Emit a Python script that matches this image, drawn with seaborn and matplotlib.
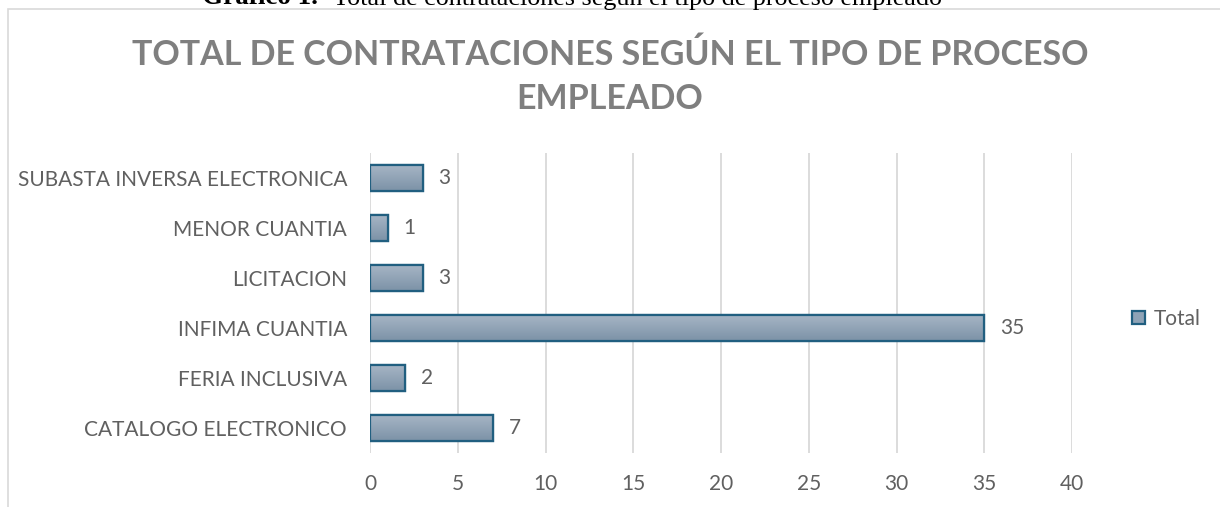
import matplotlib
matplotlib.use("Agg")
import matplotlib.pyplot as plt
import matplotlib.patches as mpatches
from matplotlib.colors import LinearSegmentedColormap
import numpy as np
import seaborn as sns
import pandas as pd

categories = ["SUBASTA INVERSA ELECTRONICA", "MENOR CUANTIA", "LICITACION",
              "INFIMA CUANTIA", "FERIA INCLUSIVA", "CATALOGO ELECTRONICO"]
values = [3, 1, 3, 35, 2, 7]
xticks = [0, 5, 10, 15, 20, 25, 30, 35, 40]
series_name = "Total"

df = pd.DataFrame({"cat": categories, "val": values})

sns.set_theme(style="white")
plt.rcParams['font.family'] = ['Lato', 'DejaVu Sans']

W, H = 1220, 507
TXT = "#606060"
fig = plt.figure(figsize=(W / 100, H / 100), dpi=100)
fig.patch.set_facecolor("white")

# chart border
fig.add_artist(mpatches.Rectangle((8 / W, -0.2), 1.2, 1 - 9 / H + 0.2,
                                  transform=fig.transFigure, fill=False,
                                  edgecolor="#d9d9d9", linewidth=1.2))

ax = fig.add_axes([370 / W, 1 - 453 / H, (1072 - 370) / W, 300 / H])
sns.barplot(data=df, x="val", y="cat", order=categories, orient="h",
            color="#8fa3b6", edgecolor="#215f80", linewidth=1.6,
            width=0.52, saturation=1, ax=ax)
ax.set_xlim(0, 40)
ax.set_ylim(5.5, -0.5)

# vertical gradient fill inside each bar
grad = LinearSegmentedColormap.from_list("g", ["#a6b5c5", "#7c92a7"])
gimg = np.linspace(0, 1, 64).reshape(-1, 1)
for p in list(ax.patches):
    x0, y0 = p.get_x(), p.get_y()
    w, h = p.get_width(), p.get_height()
    im = ax.imshow(gimg, cmap=grad, aspect="auto",
                   extent=(x0, x0 + w, y0 + h, y0), origin="upper",
                   zorder=p.get_zorder() + 0.01)
    im.set_clip_path(p)
    ax.add_patch(mpatches.Rectangle((x0, y0), w, h, fill=False, edgecolor="#215f80",
                                    linewidth=1.6, zorder=p.get_zorder() + 0.02))
ax.set_xlim(0, 40)
ax.set_ylim(5.5, -0.5)

ax.set_xticks(xticks)
ax.set_xticklabels([str(t) for t in xticks])
ax.grid(axis="x", color="#d9d9d9", linewidth=1.3)
ax.set_axisbelow(True)
for s in ax.spines.values():
    s.set_visible(False)
ax.tick_params(axis="both", length=0, labelsize=15, colors=TXT)
ax.tick_params(axis="x", pad=15)
ax.tick_params(axis="y", pad=16.5)
ax.set_xlabel("")
ax.set_ylabel("")
if ax.get_legend() is not None:
    ax.get_legend().remove()

for i, v in enumerate(values):
    ax.annotate(str(v), (v, i), xytext=(11.5, 0), textcoords="offset points",
                va="center", ha="left", fontsize=15, color=TXT)

handle = mpatches.Patch(facecolor="#8fa3b6", edgecolor="#215f80", linewidth=1.6,
                        label=series_name)
leg = fig.legend(handles=[handle], loc="center left",
                 bbox_to_anchor=(1122 / W, 1 - 319 / H),
                 frameon=False, fontsize=15, borderpad=0,
                 handlelength=0.62, handleheight=0.62, handletextpad=0.4)
for t in leg.get_texts():
    t.set_color(TXT)

fig.text(0.5, 1 - 55 / H, "TOTAL DE CONTRATACIONES SEGÚN EL TIPO DE PROCESO",
         ha="center", va="center", fontsize=24.5, fontweight="bold", color="#7f7f7f")
fig.text(0.5, 1 - 99 / H, "EMPLEADO",
         ha="center", va="center", fontsize=24.5, fontweight="bold", color="#7f7f7f")

# caption at top (clipped by the page edge, as in the reference)
fig.text(202 / W, 1 - 4.5 / H, "Gráfico 1.", ha="left", va="baseline",
         fontsize=19.5, fontweight="bold", family=["Liberation Serif"], color="black")
fig.text(333 / W, 1 - 4.5 / H, "Total de contrataciones según el tipo de proceso empleado",
         ha="left", va="baseline", fontsize=18.8, family=["Liberation Serif"], color="black")

fig.savefig("out.png", dpi=100)
